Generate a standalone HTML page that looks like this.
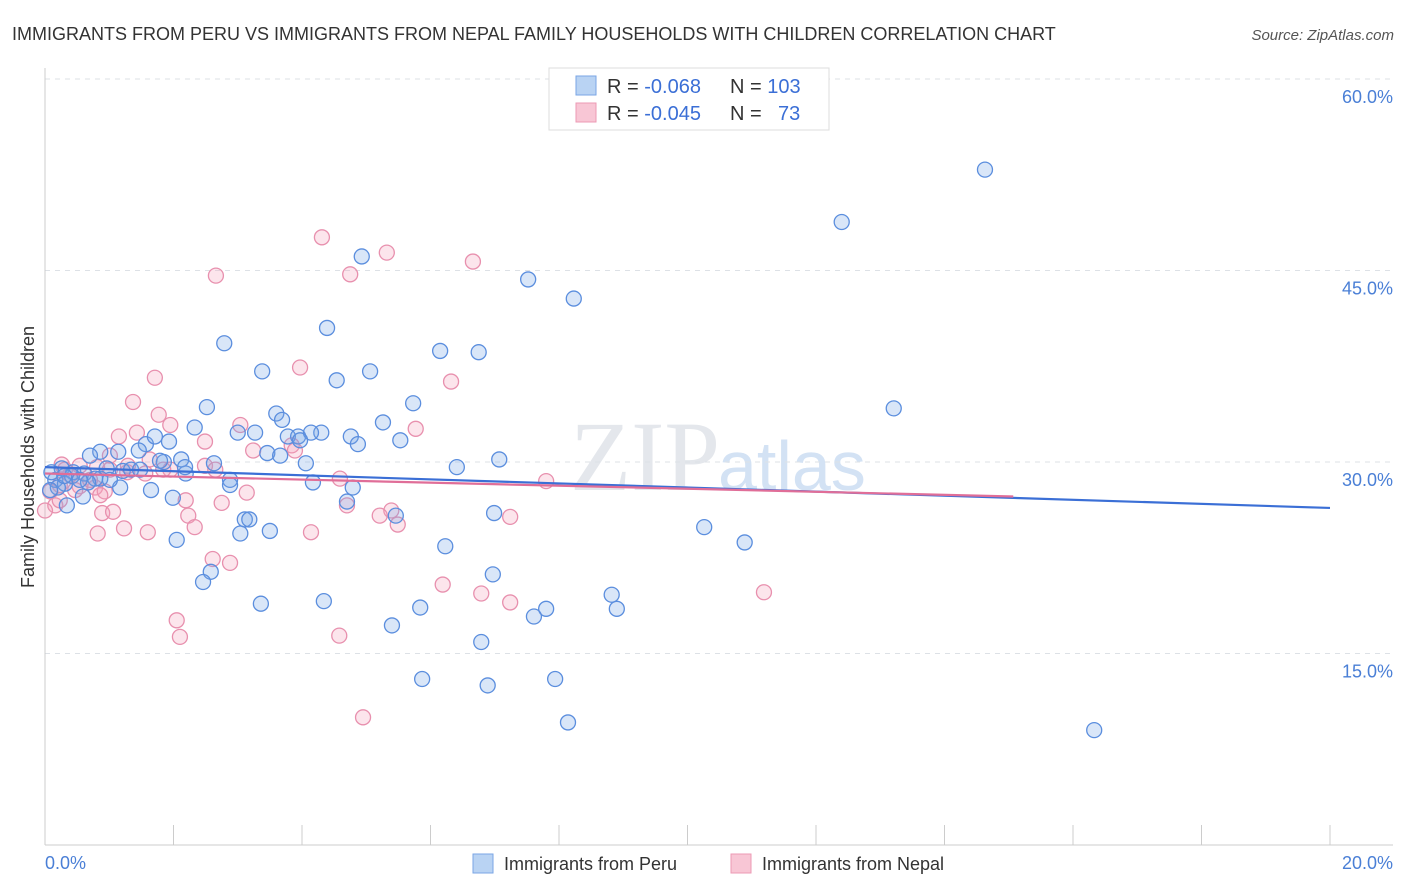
<!DOCTYPE html>
<html><head><meta charset="utf-8"><style>
body{margin:0;background:#fff;font-family:"Liberation Sans",sans-serif;}
#wrap{position:relative;width:1406px;height:892px;overflow:hidden;}
</style></head><body>
<div id="wrap">
<svg id="svg" width="1406" height="892" xmlns="http://www.w3.org/2000/svg">
<text x="12" y="40" font-size="18" fill="#333">IMMIGRANTS FROM PERU VS IMMIGRANTS FROM NEPAL FAMILY HOUSEHOLDS WITH CHILDREN CORRELATION CHART</text>
<text x="1394" y="40" font-size="15" fill="#555" font-style="italic" text-anchor="end">Source: ZipAtlas.com</text>
<text x="720" y="490" font-size="100" fill="#e4e7ec" text-anchor="end" font-family="Liberation Serif,serif">ZIP</text>
<text x="718" y="490" font-size="70" fill="#d3e2f4">atlas</text>
<g id="grid"></g>
<g id="axes"></g>
<g id="pts"></g>
<g id="trend"></g>
<text transform="translate(34,457) rotate(-90)" font-size="18" fill="#333" text-anchor="middle">Family Households with Children</text>
<text x="45" y="869" font-size="18" fill="#4a7fd6">0.0%</text>
<text x="1393" y="869" font-size="18" fill="#4a7fd6" text-anchor="end">20.0%</text>
<g>
<rect x="549" y="68" width="280" height="62" fill="#fff" stroke="#ddd"/>
<rect x="576" y="76" width="20" height="19" fill="#b9d3f3" stroke="#7aa6e4"/>
<rect x="576" y="103" width="20" height="19" fill="#f8c6d5" stroke="#ec9ab4"/>
<text x="607" y="93" font-size="20" fill="#333">R = <tspan fill="#3b6fd6">-0.068</tspan></text>
<text x="730" y="93" font-size="20" fill="#333">N = <tspan fill="#3b6fd6">103</tspan></text>
<text x="607" y="120" font-size="20" fill="#333">R = <tspan fill="#3b6fd6">-0.045</tspan></text>
<text x="730" y="120" font-size="20" fill="#333">N = <tspan fill="#3b6fd6" x="778">73</tspan></text>
</g>
<g>
<rect x="473" y="854" width="20" height="19" fill="#b9d3f3" stroke="#7aa6e4"/>
<text x="504" y="870" font-size="18" fill="#333">Immigrants from Peru</text>
<rect x="731" y="854" width="20" height="19" fill="#f8c6d5" stroke="#ec9ab4"/>
<text x="762" y="870" font-size="18" fill="#333">Immigrants from Nepal</text>
</g>
</svg>
</div>
<script>
const yTicks=[15,30,45,60];
const yTickLabels=["15.0%","30.0%","45.0%","60.0%"];
const xTicks=[0,2,4,6,8,10,12,14,16,18,20];
const peruX=[14.63,12.40,4.93,7.52,8.23,4.39,2.79,6.15,6.75,3.38,5.06,4.54,13.21,2.52,5.73,3.60,5.26,3.69,2.33,3.00,3.27,4.30,3.78,3.94,4.14,4.76,5.53,4.87,1.93,1.57,1.71,1.14,0.86,1.46,0.70,3.46,3.66,4.06,1.85,2.12,2.63,6.41,7.07,1.21,1.34,0.96,0.26,0.44,0.61,0.16,0.31,0.20,0.08,1.17,1.65,2.88,4.17,2.19,4.79,1.99,4.70,0.59,0.34,6.99,5.46,3.11,3.18,10.26,3.04,3.50,2.05,10.89,6.23,6.97,2.58,2.46,8.82,4.34,3.36,5.84,7.80,8.90,7.61,5.40,6.79,5.87,6.89,7.94,8.14,16.33,0.86,1.01,0.78,1.48,1.79,0.42,0.67,2.88,2.18,3.97,0.54,0.10,0.30];
const peruY=[52.9,48.8,46.1,44.3,42.8,40.5,39.3,38.7,38.6,37.1,37.1,36.4,34.2,34.3,34.6,33.8,33.1,33.3,32.7,32.3,32.3,32.3,32.0,32.0,32.3,32.0,31.7,31.4,31.6,31.4,32.0,30.8,30.8,30.9,30.5,30.7,30.5,29.9,30.0,30.2,29.9,29.6,30.2,29.3,29.4,29.5,29.5,29.2,29.1,28.6,28.3,28.0,27.8,28.0,27.8,28.6,28.4,29.1,28.0,27.2,26.9,27.3,26.6,26.0,25.8,25.5,25.5,24.9,24.4,24.6,23.9,23.7,23.4,21.2,21.4,20.6,19.6,19.1,18.9,18.6,18.5,18.5,17.9,17.2,15.9,13.0,12.5,13.0,9.6,9.0,28.7,28.6,28.7,29.4,30.1,28.9,28.4,28.2,29.6,31.7,28.6,29.2,28.9];
const nepalX=[4.31,5.32,6.66,4.75,2.66,3.97,6.32,1.71,1.37,5.77,1.77,1.95,3.04,1.15,2.49,1.43,3.84,3.24,0.26,0.54,0.81,1.01,1.28,1.56,1.95,2.49,0.54,0.78,0.93,0.23,0.08,0.16,0.00,0.39,4.59,7.80,3.14,2.19,2.75,4.70,5.39,0.89,1.06,2.23,7.24,5.49,2.33,1.23,1.60,0.82,4.14,2.61,2.88,6.19,6.79,7.24,11.19,2.05,2.10,4.58,4.95,1.29,1.63,0.86,0.70,0.47,0.31,2.65,1.84,3.89,5.21,0.23,1.01];
const nepalY=[47.6,46.4,45.7,44.7,44.6,37.4,36.3,36.6,34.7,32.6,33.7,32.9,32.9,32.0,31.6,32.3,31.3,30.9,29.8,29.7,29.6,29.4,29.2,29.1,29.4,29.7,28.1,28.0,27.7,28.2,27.7,26.6,26.2,29.0,28.7,28.5,27.6,27.0,26.8,26.6,26.2,26.0,26.1,25.8,25.7,25.1,24.9,24.8,24.5,24.4,24.5,22.4,22.1,20.4,19.7,19.0,19.8,17.6,16.3,16.4,10.0,29.7,30.2,27.4,28.6,27.8,29.4,29.4,29.4,30.9,25.8,27.0,30.5];
const peruTrend=[[0,29.6],[20,26.4]];
const nepalTrend=[[0,29.1],[15.07,27.3]];

const NS="http://www.w3.org/2000/svg";
const X0=45,X1=1330,YB=845;
const sx=v=>X0+(X1-X0)*v/20;
const sy=v=>462-(v-30)*(191.5/15);
function mk(tag,attrs,parent){const e=document.createElementNS(NS,tag);for(const k in attrs)e.setAttribute(k,attrs[k]);document.getElementById(parent).appendChild(e);return e;}
yTicks.forEach((t,i)=>{
  const l=mk('line',{x1:X0,x2:1393,y1:sy(t),y2:sy(t),stroke:'#dde1e6','stroke-dasharray':'5,5'},'grid');
  
  
  const tx=mk('text',{x:1393,y:sy(t)+24,'font-size':18,fill:'#4a7fd6','text-anchor':'end'},'grid');
  tx.textContent=yTickLabels[i];
  
  
});
const topGrid=mk('line',{x1:X0,x2:1393,y1:79,y2:79,stroke:'#dde1e6','stroke-dasharray':'5,5'},'grid');


const ya=mk('line',{x1:X0,x2:X0,y1:68,y2:YB,stroke:'#ccc'},'axes');


const xa=mk('line',{x1:X0,x2:1393,y1:YB,y2:YB,stroke:'#ccc'},'axes');


xTicks.forEach(t=>{
  const l=mk('line',{x1:sx(t),x2:sx(t),y1:825,y2:YB,stroke:'#ccc'},'axes');
  
  
});
function pts(xs,ys,fill,stroke,name){
  xs.forEach((x,i)=>{
    const c=mk('circle',{cx:sx(x),cy:sy(ys[i]),r:7.5,fill:fill,stroke:stroke,'stroke-width':1.3},'pts');
    
    
  });
}
pts(nepalX,nepalY,'rgba(244,160,188,0.28)','#e890ae','point-nepal');
pts(peruX,peruY,'rgba(120,165,230,0.28)','#5b8ede','point-peru');
const tp=mk('line',{x1:sx(peruTrend[0][0]),y1:sy(peruTrend[0][1]),x2:sx(peruTrend[1][0]),y2:sy(peruTrend[1][1]),stroke:'#3b6fd6','stroke-width':2.2},'trend');


const tn=mk('line',{x1:sx(nepalTrend[0][0]),y1:sy(nepalTrend[0][1]),x2:sx(nepalTrend[1][0]),y2:sy(nepalTrend[1][1]),stroke:'#e06e98','stroke-width':2.2},'trend');


</script>
</body></html>
